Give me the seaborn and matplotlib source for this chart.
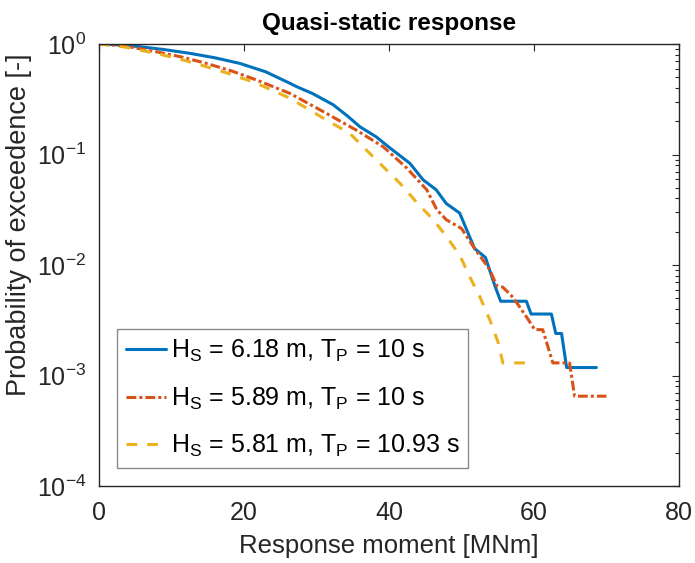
import numpy as np
import pandas as pd
import matplotlib
matplotlib.use("Agg")
import matplotlib.pyplot as plt
import seaborn as sns
from matplotlib.ticker import LogLocator, FixedLocator

# ---- data ----
labels = [r"H$_\mathregular{S}$ = 6.18 m, T$_\mathregular{P}$ = 10 s",
          r"H$_\mathregular{S}$ = 5.89 m, T$_\mathregular{P}$ = 10 s",
          r"H$_\mathregular{S}$ = 5.81 m, T$_\mathregular{P}$ = 10.93 s"]

blue_x = [0, 2.5, 5.6, 9.0, 12.5, 16.0, 19.4, 23.0, 26.3, 27.3, 29.5, 32.3, 34.2, 36.0,
          38.2, 40.1, 42.9, 44.7, 46.5, 47.9, 49.75, 51.8, 53.3, 54.6, 55.4,
          58.95, 59.6, 62.4, 63.0, 63.8, 64.5, 68.6]
blue_y = [1.0, 0.985, 0.946, 0.89, 0.824, 0.75, 0.668, 0.56, 0.442, 0.41, 0.355, 0.282, 0.225, 0.178,
          0.145, 0.115, 0.083, 0.059, 0.048, 0.036, 0.0295, 0.0141, 0.0117, 0.0065, 0.0047,
          0.0047, 0.0036, 0.0036, 0.0024, 0.0024, 0.00118, 0.00118]

orange_x = [0, 3.5, 7.9, 11.5, 14.8, 18.3, 21.7, 26.3, 30.9, 35.5, 39.2, 42.4, 45.2, 46.6,
            47.9, 50.0, 51.8, 53.9, 54.85, 55.7, 57.1, 58.95, 60.1, 61.2, 62.6, 64.9,
            65.6, 70.0]
orange_y = [1.0, 0.96, 0.851, 0.76, 0.668, 0.57, 0.473, 0.358, 0.245, 0.166, 0.1175, 0.076, 0.048, 0.0316,
            0.0257, 0.0214, 0.0141, 0.0091, 0.0065, 0.0063, 0.0051, 0.0034, 0.0026, 0.0026, 0.0013, 0.0013,
            0.00065, 0.00065]

yellow_x = [0, 3.5, 7.9, 11.5, 14.8, 18.3, 21.7, 26.3, 30.9, 34.6, 37.8, 41.5, 43.8, 46.1,
            47.9, 49.75, 51.1, 52.5, 53.9, 55.1, 55.7, 59.9]
yellow_y = [1.0, 0.94, 0.822, 0.72, 0.624, 0.53, 0.442, 0.324, 0.214, 0.155, 0.0955, 0.055, 0.037, 0.0257,
            0.0182, 0.0123, 0.0079, 0.0052, 0.0032, 0.00195, 0.0013, 0.0013]

x_ticks = [0, 20, 40, 60, 80]

# ---- style ----
sns.set_style("white")
plt.rcParams["font.family"] = ["Liberation Sans", "DejaVu Sans"]
plt.rcParams["mathtext.fontset"] = "custom"
plt.rcParams["mathtext.rm"] = "Liberation Sans"
plt.rcParams["mathtext.it"] = "Liberation Sans:italic"
plt.rcParams["mathtext.bf"] = "Liberation Sans:bold"
plt.rcParams["axes.unicode_minus"] = False

txt = "#262626"
FS = 18
fig = plt.figure(figsize=(6.95, 5.63), dpi=100)
ax = fig.add_axes([99 / 695, 1 - 486 / 563, 580 / 695, 442 / 563])

series = [
    (blue_x, blue_y, "#0072BD", "-"),
    (orange_x, orange_y, "#D95319", (0, (3.2, 1.0, 1.0, 1.0))),
    (yellow_x, yellow_y, "#EDB120", (0, (3.5, 3.3))),
]
for (xs, ys, col, ls), lab in zip(series, labels):
    df = pd.DataFrame({"x": xs, "y": ys})
    sns.lineplot(data=df, x="x", y="y", ax=ax, estimator=None, sort=False,
                 color=col, linestyle=ls, linewidth=2.2, label=lab)

ax.set_yscale("log")
ax.set_xlim(0, 80)
ax.set_ylim(1e-4, 1)
ax.xaxis.set_major_locator(FixedLocator(x_ticks))
ax.yaxis.set_major_locator(LogLocator(base=10, numticks=10))
ax.yaxis.set_minor_locator(LogLocator(base=10, subs=np.arange(2, 10), numticks=10))

for s in ax.spines.values():
    s.set_visible(True)
    s.set_color(txt)
    s.set_linewidth(1.0)
ax.tick_params(which="both", direction="in", top=True, right=True, color=txt,
               labelcolor=txt, labelsize=FS, width=0.8)
ax.tick_params(which="major", length=5)
ax.tick_params(which="minor", length=3)
ax.tick_params(axis="x", which="major", pad=11)
ax.tick_params(axis="y", which="major", pad=9)

ax.set_xlabel("Response moment [MNm]", fontsize=18.5, color=txt, labelpad=6)
ax.set_ylabel("Probability of exceedence [-]", fontsize=19.5, color=txt)
ax.yaxis.set_label_coords(-0.116, 0.59)
ax.set_title("Quasi-static response", fontsize=17.5, fontweight="bold", color="black", pad=10)

leg = ax.legend(loc="lower left", bbox_to_anchor=(0.031, 0.041), borderaxespad=0,
                fontsize=FS, frameon=True, fancybox=False, handlelength=1.6,
                handletextpad=0.2, labelspacing=0.85, borderpad=0.35)
leg.get_frame().set_edgecolor("#6e6e6e")
leg.get_frame().set_linewidth(1.0)
for t in leg.get_texts():
    t.set_color("black")

fig.savefig("out.png", dpi=100)
